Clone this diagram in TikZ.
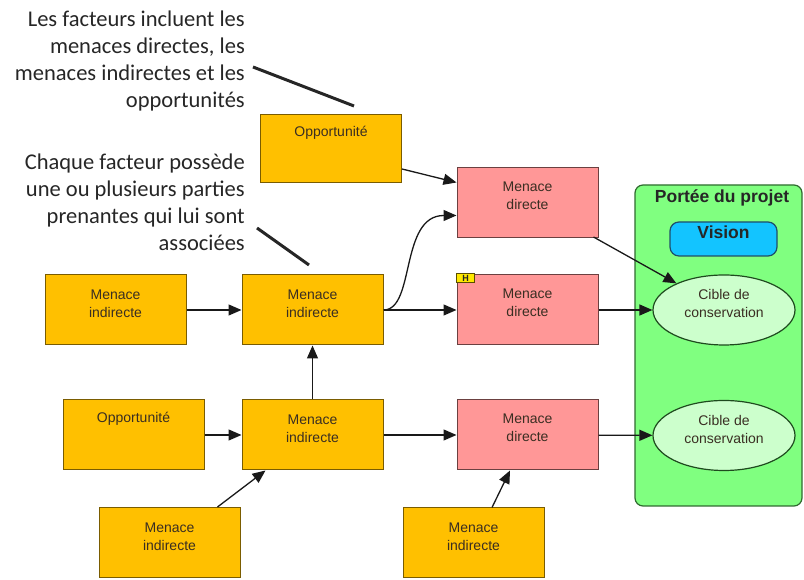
\documentclass[tikz,border=0pt]{standalone}
\usepackage{fontspec}
\setmainfont{Liberation Sans}
\newfontfamily\notefont{Carlito}
\usetikzlibrary{arrows.meta,shapes.geometric,calc}

\definecolor{indfill}{HTML}{FFC000}
\definecolor{indline}{HTML}{7A5C00}
\definecolor{dirfill}{HTML}{FF9797}
\definecolor{dirline}{HTML}{6B4040}
\definecolor{scopefill}{HTML}{80FF80}
\definecolor{scopeline}{HTML}{2F6A2F}
\definecolor{targetfill}{HTML}{CCFFCC}
\definecolor{targetline}{HTML}{1E4A1E}
\definecolor{visionfill}{HTML}{13C4FF}
\definecolor{visionline}{HTML}{1F4F6A}
\definecolor{flagfill}{HTML}{FFE800}
\definecolor{flagline}{HTML}{5A4E00}
\definecolor{boxtext}{HTML}{3A2E22}
\definecolor{notetext}{HTML}{262626}

% box text: stacked lines whose last baseline sits #1 above the node centre
\newcommand\lift[2]{\raisebox{#1}[0pt][0pt]{\begin{tabular}[b]{@{}c@{}}#2\end{tabular}}}

\tikzset{
  factor/.style={draw, line width=1pt, minimum width=141pt, minimum height=70pt,
    inner sep=0pt, text=boxtext, font=\fontsize{14}{18}\selectfont},
  indirect/.style={factor, fill=indfill, draw=indline},
  direct/.style={factor, fill=dirfill, draw=dirline},
  target/.style={ellipse, draw=targetline, line width=1.2pt, fill=targetfill,
    minimum width=142pt, minimum height=70pt, inner sep=0pt, text=boxtext,
    font=\fontsize{14}{18}\selectfont},
  scopebox/.style={draw=scopeline, line width=1.2pt, fill=scopefill, rounded corners=8pt,
    minimum width=167pt, minimum height=321pt, inner sep=0pt},
  visionbox/.style={draw=visionline, line width=1.2pt, fill=visionfill, rounded corners=9pt,
    minimum width=107pt, minimum height=34pt, inner sep=0pt, text=black!85,
    font=\fontsize{17.5}{20}\selectfont\bfseries},
  flag/.style={draw=flagline, line width=1pt, fill=flagfill, minimum width=18pt,
    minimum height=9pt, inner sep=0pt, font=\fontsize{9}{9}\selectfont\bfseries, text=black!85},
  link/.style={line width=1.3pt, black!90, -{Triangle[length=13pt,width=11pt]}},
  pointer/.style={line width=3pt, notetext},
  note/.style={inner sep=0pt, anchor=base east, text=notetext,
    font=\notefont\fontsize{22.5}{27}\selectfont}
}

\begin{document}
\begin{tikzpicture}[x=1pt,y=1pt]
\useasboundingbox (0,0) rectangle (804,580);

% project scope
\node[scopebox] (scope) at (718.5,234.5) {};
\node[anchor=base, inner sep=0pt, text=black!85,
  font=\fontsize{17.5}{20}\selectfont\bfseries] (scopetitle) at (722,377) {Portée du projet};
\node[visionbox] (vision) at (723.5,341) {\raisebox{0pt}[0pt][0pt]{Vision}};
\node[target] (cible1) at (724,270) {\lift{-8pt}{Cible de\\conservation}};
\node[target] (cible2) at (724,144.5) {\lift{-8pt}{Cible de\\conservation}};

% factors
\node[indirect, minimum height=68pt] (opp1) at (331,431) {\raisebox{12pt}[0pt][0pt]{Opportunité}};
\node[direct] (md1) at (527.5,377.5) {\lift{-7pt}{Menace\\directe}};
\node[direct] (md2) at (527.5,270) {\lift{-7pt}{Menace\\directe}};
\node[direct] (md3) at (527.5,145) {\lift{-7pt}{Menace\\directe}};
\node[flag] (hmark) at ($(md2.north west)+(9,-4)$) {H};

\node[indirect] (mi0) at (115.5,270) {\lift{-8pt}{Menace\\indirecte}};
\node[indirect] (mi1) at (312.5,270) {\lift{-8pt}{Menace\\indirecte}};
\node[indirect] (opp2) at (133.5,145) {\raisebox{12pt}[0pt][0pt]{Opportunité}};
\node[indirect] (mi2) at (312.5,145) {\lift{-8pt}{Menace\\indirecte}};
\node[indirect] (mi3) at (169.5,37.5) {\lift{-8pt}{Menace\\indirecte}};
\node[indirect] (mi4) at (473.5,37) {\lift{-8pt}{Menace\\indirecte}};

% links
\draw[link] ($(opp1.east)+(0,-20)$) -- ($(md1.west)+(0,20)$);
\draw[link] (mi1.east) .. controls +(32,0) and +(-57,0) .. ($(md1.west)+(0,-13)$);
\draw[link] (mi1) -- (md2);
\draw[link] (mi0) -- (mi1);
\draw[link] ($(md1.south east)+(-5,1)$) -- (cible1);
\draw[link] (md2) -- (cible1);
\draw[link] (mi2) -- (mi1);
\draw[link] (opp2) -- (mi2);
\draw[link] (mi2) -- (md3);
\draw[link] (md3) -- (cible2);
\draw[link] ($(mi3.north)+(48,0)$) -- ($(mi2.south)+(-47,0)$);
\draw[link] ($(mi4.north)+(18.5,0)$) -- ($(md3.south)+(-17.5,0)$);

% explanatory notes
\node[note] (note1) at (245,553) {\begin{tabular}[t]{@{}r@{}}Les facteurs incluent les\\
  menaces directes, les\\ menaces indirectes et les\\ opportunités\end{tabular}};
\node[note] (note2) at (245,410) {\begin{tabular}[t]{@{}r@{}}Chaque facteur possède\\
  une ou plusieurs parties\\ prenantes qui lui sont\\ associées\end{tabular}};
\coordinate (p1a) at (253,513);
\coordinate (p1b) at (354,474);
\coordinate (p2a) at (257,352);
\coordinate (p2b) at (309,315);
\draw[pointer] (p1a) -- (p1b);
\draw[pointer] (p2a) -- (p2b);
\end{tikzpicture}
\end{document}
